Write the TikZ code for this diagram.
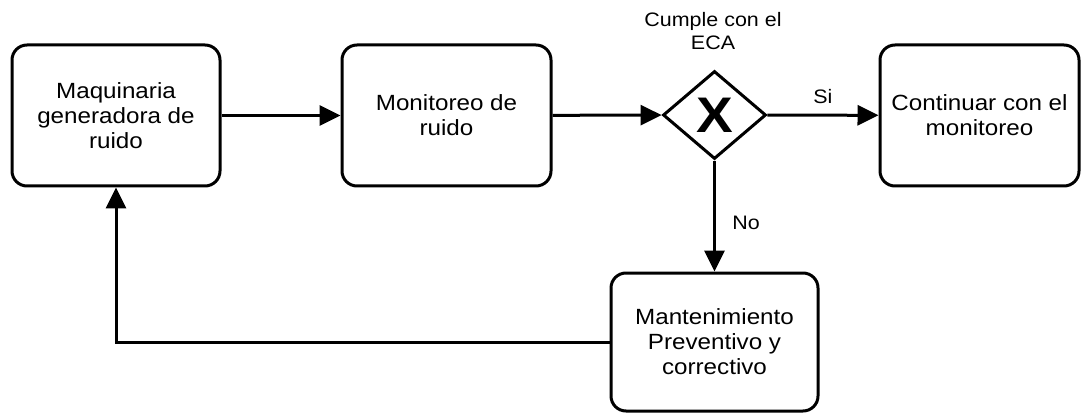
\documentclass[tikz,border=0pt]{standalone}
\usepackage{fontspec}
\setmainfont[FakeStretch=1.1]{Liberation Sans}
\usepackage{tikz}
\usetikzlibrary{shapes}
\usetikzlibrary{positioning}
\usetikzlibrary{arrows.meta}

\begin{document}
\begin{tikzpicture}[x=1pt, y=-1pt,
    task/.style={draw, line width=3pt, rounded corners=15pt, align=center,
        minimum width=208pt, minimum height=141pt, inner sep=0pt,
        font=\fontsize{22}{25}\selectfont},
    gateway/.style={draw, diamond, line width=3pt, minimum width=103pt,
        minimum height=88pt, inner sep=0pt, font=\fontsize{50}{50}\selectfont\bfseries},
    flow/.style={line width=3pt, -{Triangle[length=21pt, width=20pt]}},
    lbl/.style={font=\fontsize{19.5}{23}\selectfont, align=center}]
    \useasboundingbox (0,0) rectangle (1081,414);
    \node[task] (maquinaria) at (116,115.5) {Maquinaria\\generadora de\\ruido};
    \node[task, minimum width=209pt] (monitoreo) at (446.5,115.5) {Monitoreo de\\ruido};
    \node[gateway] (eca) at (714.5,115) {X};
    \node[lbl] (ecalbl) at (713,31) {Cumple con el\\ECA};
    \node[task, minimum width=199pt] (continuar) at (979.5,115.5) {Continuar con el\\monitoreo};
    \node[task, minimum width=207pt, minimum height=138pt] (mantenimiento) at (714.5,342) {Mantenimiento\\Preventivo y\\correctivo};
    \draw[flow] (maquinaria) -- (monitoreo);
    \draw[flow] (monitoreo) -- (eca);
    \draw[flow] (eca) -- node[lbl, midway, above=7pt] {Si} (continuar);
    \draw[flow] (eca) -- node[lbl, pos=0.56, right=13pt] {No} (mantenimiento);
    \draw[flow] (mantenimiento.west) -| (maquinaria.south);
\end{tikzpicture}
\end{document}
